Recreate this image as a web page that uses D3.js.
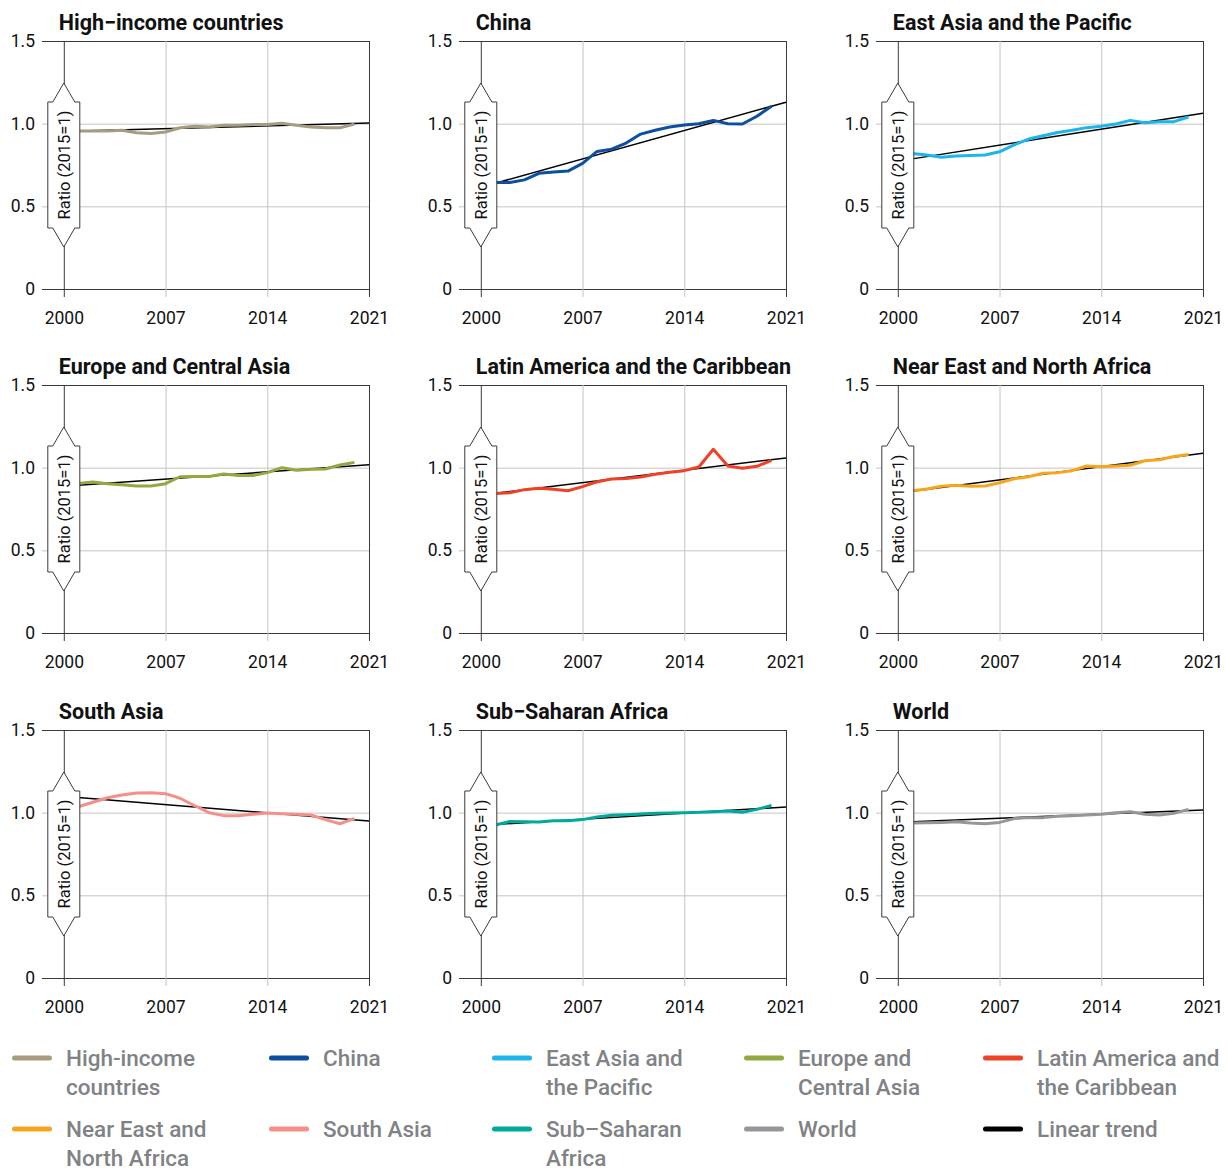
<!DOCTYPE html>
<html>
<head>
<meta charset="utf-8">
<script src="https://cdn.jsdelivr.net/npm/d3@7"></script>
<style>
  body { margin: 0; background: #fff; }
  svg { display: block; }
  text { font-family: Roboto, "Noto Sans", sans-serif; }
</style>
</head>
<body>
<svg id="chart" width="1228" height="1169"></svg>
<script>
// data
const years = [2001, 2002, 2003, 2004, 2005, 2006, 2007, 2008, 2009, 2010,
               2011, 2012, 2013, 2014, 2015, 2016, 2017, 2018, 2019, 2020];

const regions = [
  'High−income countries', 'China', 'East Asia and the Pacific',
  'Europe and Central Asia', 'Latin America and the Caribbean', 'Near East and North Africa',
  'South Asia', 'Sub−Saharan Africa', 'World'
];

const colors = ['#a89c80', '#0b4ea2', '#1cb5ec', '#92a840', '#ee4126', '#f7a51e', '#f4908a', '#00a99d', '#96969a'];

const highIncome = [0.955, 0.955, 0.955, 0.96, 0.945, 0.94, 0.95, 0.975, 0.985, 0.98,
                    0.99, 0.99, 0.995, 0.995, 1.003, 0.99, 0.98, 0.975, 0.975, 0.997];
const china      = [0.644, 0.644, 0.66, 0.70, 0.708, 0.713, 0.76, 0.832, 0.846, 0.883,
                    0.937, 0.96, 0.98, 0.992, 1.0, 1.02, 1.0, 0.998, 1.045, 1.105];
const eastAsia   = [0.82, 0.81, 0.797, 0.805, 0.807, 0.81, 0.83, 0.872, 0.907, 0.927,
                    0.947, 0.96, 0.976, 0.984, 0.998, 1.02, 1.006, 1.012, 1.012, 1.04];
const europe     = [0.905, 0.913, 0.903, 0.897, 0.889, 0.889, 0.903, 0.945, 0.947, 0.947,
                    0.962, 0.952, 0.952, 0.97, 1.0, 0.984, 0.99, 0.992, 1.016, 1.032];
const latAm      = [0.844, 0.848, 0.867, 0.875, 0.87, 0.86, 0.885, 0.915, 0.931, 0.935,
                    0.943, 0.96, 0.972, 0.982, 1.004, 1.111, 1.01, 0.996, 1.008, 1.044];
const nearEast   = [0.86, 0.871, 0.887, 0.893, 0.887, 0.889, 0.909, 0.933, 0.945, 0.966,
                    0.97, 0.982, 1.01, 1.006, 1.01, 1.014, 1.042, 1.048, 1.067, 1.079];
const southAsia  = [1.036, 1.063, 1.09, 1.107, 1.119, 1.121, 1.115, 1.087, 1.042, 1.0,
                    0.982, 0.982, 0.99, 0.998, 0.994, 0.99, 0.986, 0.958, 0.933, 0.966];
const subSahara  = [0.925, 0.947, 0.945, 0.943, 0.951, 0.951, 0.958, 0.974, 0.984, 0.988,
                    0.992, 0.996, 0.998, 1.0, 1.002, 1.006, 1.01, 1.002, 1.02, 1.044];
const world      = [0.937, 0.939, 0.941, 0.945, 0.937, 0.933, 0.941, 0.964, 0.97, 0.97,
                    0.978, 0.982, 0.986, 0.99, 1.0, 1.006, 0.99, 0.986, 0.996, 1.02];

const series = [highIncome, china, eastAsia, europe, latAm, nearEast, southAsia, subSahara, world];

// linear trend, value at 2001 and at 2021
const trendYears = [2001, 2021];
const trends = [
  [0.955, 1.004], [0.64, 1.13], [0.787, 1.063],
  [0.893, 1.018], [0.845, 1.059], [0.857, 1.087],
  [1.091, 0.949], [0.929, 1.034], [0.945, 1.016]
];

const xTicks = [2000, 2007, 2014, 2021];
const yTicks = [0, 0.5, 1, 1.5];

const legendLabels = [
  ['High-income', 'countries'], ['China'], ['East Asia and', 'the Pacific'],
  ['Europe and', 'Central Asia'], ['Latin America and', 'the Caribbean'],
  ['Near East and', 'North Africa'], ['South Asia'], ['Sub–Saharan', 'Africa'],
  ['World'], ['Linear trend']
];
const legendColors = ['#a89c80', '#0b4ea2', '#1cb5ec', '#92a840', '#ee4126',
                      '#f7a51e', '#f4908a', '#00a99d', '#96969a', '#000000'];

// layout
const svg = d3.select('#chart');
const colX = [0, 417, 834];
const rowY = [0, 344, 689];
const dark = '#3a3a3a';
const grey = '#c4c4c4';

const x = d3.scaleLinear().domain([1998.5, 2021]).range([42, 369]);
const y = d3.scaleLinear().domain([0, 1.5]).range([289, 41]);

const line = d3.line()
  .x((d, i) => x(years[i]))
  .y(d => y(d));

const panels = svg.selectAll('g.panel')
  .data(regions)
  .join('g')
  .attr('class', 'panel')
  .attr('transform', (d, i) => `translate(${colX[i % 3]}, ${rowY[Math.floor(i / 3)]})`);

panels.each(function (name, i) {
  const g = d3.select(this);

  // horizontal grid + y labels
  const yAxis = g.append('g')
    .attr('transform', `translate(${x.range()[0]}, 0)`)
    .call(d3.axisLeft(y)
      .tickValues(yTicks)
      .tickSize(-(x.range()[1] - x.range()[0]))
      .tickPadding(7)
      .tickFormat(d => d === 0 ? '0' : d3.format('.1f')(d)));
  yAxis.select('.domain').remove();
  yAxis.selectAll('line')
    .attr('stroke', d => (d === 0 || d === 1.5) ? dark : grey)
    .attr('stroke-width', 1);
  yAxis.selectAll('text')
    .attr('fill', '#111')
    .style('font-family', 'Roboto, sans-serif')
    .style('font-size', '17.5px');

  // vertical grid + x labels
  const xAxis = g.append('g')
    .attr('transform', `translate(0, ${y(0)})`)
    .call(d3.axisBottom(x).tickValues(xTicks).tickFormat(d3.format('d')));
  xAxis.select('.domain').remove();
  xAxis.selectAll('line')
    .attr('y1', 8)
    .attr('y2', y(1.5) - y(0))
    .attr('stroke', d => (d === 2000 || d === 2021) ? dark : grey)
    .attr('stroke-width', 1);
  xAxis.selectAll('text')
    .attr('y', 0)
    .attr('dy', 35)
    .attr('fill', '#111')
    .style('font-family', 'Roboto, sans-serif')
    .style('font-size', '17.5px');

  // trend line
  g.append('line')
    .attr('x1', x(trendYears[0]))
    .attr('y1', y(trends[i][0]))
    .attr('x2', x(trendYears[1]))
    .attr('y2', y(trends[i][1]))
    .attr('stroke', '#000')
    .attr('stroke-width', 1.5);

  // data line
  g.append('path')
    .datum(series[i])
    .attr('d', line)
    .attr('fill', 'none')
    .attr('stroke', colors[i])
    .attr('stroke-width', 3)
    .attr('stroke-linejoin', 'round');

  // y-axis label badge
  const cx = x(2000), cy = y(0.75);
  const badge = [[0, -82], [11, -63], [16, -63], [16, 63], [11, 63], [0, 82],
                 [-11, 63], [-16, 63], [-16, -63], [-11, -63]];
  g.append('path')
    .attr('d', d3.line()(badge.map(([dx, dy]) => [cx + dx, cy + dy])) + 'Z')
    .attr('fill', '#fff')
    .attr('stroke', dark)
    .attr('stroke-width', 1);
  g.append('text')
    .attr('transform', `translate(${cx + 6.5}, ${cy}) rotate(-90)`)
    .attr('text-anchor', 'middle')
    .attr('fill', '#111')
    .style('font-size', '16.5px')
    .text('Ratio (2015=1)');

  // title
  g.append('text')
    .attr('x', x(2000) - 5)
    .attr('y', y(1.5) - 11)
    .attr('fill', '#111')
    .style('font-size', '21.5px')
    .style('font-weight', 'bold')
    .text(name);
});

// legend
const legX = [12, 269, 492, 744, 983];
const legY = [1058, 1129];

const legend = svg.append('g')
  .selectAll('g')
  .data(legendLabels)
  .join('g')
  .attr('transform', (d, i) => `translate(${legX[i % 5]}, ${legY[Math.floor(i / 5)]})`);

legend.append('line')
  .attr('x1', 2.5)
  .attr('x2', 37.5)
  .attr('stroke', (d, i) => legendColors[i])
  .attr('stroke-width', 5)
  .attr('stroke-linecap', 'round');

legend.append('text')
  .attr('x', 54)
  .attr('y', 8)
  .attr('fill', '#808285')
  .style('font-size', '22.5px')
  .style('font-weight', 500)
  .selectAll('tspan')
  .data(d => d)
  .join('tspan')
  .attr('x', 54)
  .attr('dy', (d, i) => i === 0 ? 0 : 28.5)
  .text(d => d);
</script>
</body>
</html>
